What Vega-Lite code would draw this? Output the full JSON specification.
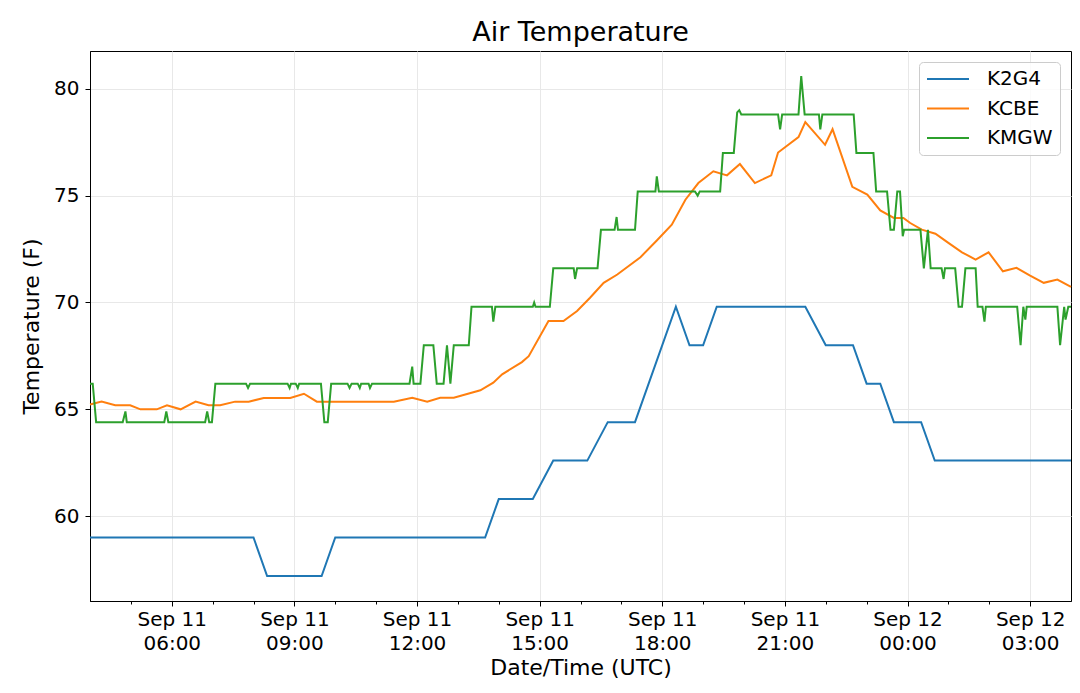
{
  "$schema": "https://vega.github.io/schema/vega-lite/v6.json",
  "width": 981,
  "height": 550,
  "autosize": {"type": "none"},
  "padding": {"left": 90, "top": 51, "right": 9, "bottom": 92},
  "background": "white",
  "title": {"text": "Air Temperature", "fontSize": 27, "font": "DejaVu Sans", "fontWeight": "normal", "color": "black", "offset": 4},
  "data": {
    "values": [
      {"station": "K2G4", "time": "2019-09-11T04:00:00Z", "temp": 59},
      {"station": "K2G4", "time": "2019-09-11T08:00:00Z", "temp": 59},
      {"station": "K2G4", "time": "2019-09-11T08:20:00Z", "temp": 57.2},
      {"station": "K2G4", "time": "2019-09-11T09:40:00Z", "temp": 57.2},
      {"station": "K2G4", "time": "2019-09-11T10:00:00Z", "temp": 59},
      {"station": "K2G4", "time": "2019-09-11T13:40:00Z", "temp": 59},
      {"station": "K2G4", "time": "2019-09-11T14:00:00Z", "temp": 60.8},
      {"station": "K2G4", "time": "2019-09-11T14:50:00Z", "temp": 60.8},
      {"station": "K2G4", "time": "2019-09-11T15:20:00Z", "temp": 62.6},
      {"station": "K2G4", "time": "2019-09-11T16:10:00Z", "temp": 62.6},
      {"station": "K2G4", "time": "2019-09-11T16:40:00Z", "temp": 64.4},
      {"station": "K2G4", "time": "2019-09-11T17:20:00Z", "temp": 64.4},
      {"station": "K2G4", "time": "2019-09-11T18:20:00Z", "temp": 69.8},
      {"station": "K2G4", "time": "2019-09-11T18:40:00Z", "temp": 68},
      {"station": "K2G4", "time": "2019-09-11T19:00:00Z", "temp": 68},
      {"station": "K2G4", "time": "2019-09-11T19:20:00Z", "temp": 69.8},
      {"station": "K2G4", "time": "2019-09-11T21:30:00Z", "temp": 69.8},
      {"station": "K2G4", "time": "2019-09-11T22:00:00Z", "temp": 68},
      {"station": "K2G4", "time": "2019-09-11T22:40:00Z", "temp": 68},
      {"station": "K2G4", "time": "2019-09-11T23:00:00Z", "temp": 66.2},
      {"station": "K2G4", "time": "2019-09-11T23:20:00Z", "temp": 66.2},
      {"station": "K2G4", "time": "2019-09-11T23:40:00Z", "temp": 64.4},
      {"station": "K2G4", "time": "2019-09-12T00:20:00Z", "temp": 64.4},
      {"station": "K2G4", "time": "2019-09-12T00:40:00Z", "temp": 62.6},
      {"station": "K2G4", "time": "2019-09-12T04:00:00Z", "temp": 62.6},
      {"station": "KCBE", "time": "2019-09-11T04:00:00Z", "temp": 65.23},
      {"station": "KCBE", "time": "2019-09-11T04:17:00Z", "temp": 65.36},
      {"station": "KCBE", "time": "2019-09-11T04:37:00Z", "temp": 65.19},
      {"station": "KCBE", "time": "2019-09-11T04:59:00Z", "temp": 65.19},
      {"station": "KCBE", "time": "2019-09-11T05:14:00Z", "temp": 65.0},
      {"station": "KCBE", "time": "2019-09-11T05:38:00Z", "temp": 65.0},
      {"station": "KCBE", "time": "2019-09-11T05:53:00Z", "temp": 65.19},
      {"station": "KCBE", "time": "2019-09-11T06:13:00Z", "temp": 65.0},
      {"station": "KCBE", "time": "2019-09-11T06:35:00Z", "temp": 65.36},
      {"station": "KCBE", "time": "2019-09-11T06:54:00Z", "temp": 65.19},
      {"station": "KCBE", "time": "2019-09-11T07:11:00Z", "temp": 65.19},
      {"station": "KCBE", "time": "2019-09-11T07:33:00Z", "temp": 65.36},
      {"station": "KCBE", "time": "2019-09-11T07:53:00Z", "temp": 65.36},
      {"station": "KCBE", "time": "2019-09-11T08:15:00Z", "temp": 65.53},
      {"station": "KCBE", "time": "2019-09-11T08:54:00Z", "temp": 65.53},
      {"station": "KCBE", "time": "2019-09-11T09:14:00Z", "temp": 65.73},
      {"station": "KCBE", "time": "2019-09-11T09:33:00Z", "temp": 65.36},
      {"station": "KCBE", "time": "2019-09-11T11:26:00Z", "temp": 65.36},
      {"station": "KCBE", "time": "2019-09-11T11:53:00Z", "temp": 65.54},
      {"station": "KCBE", "time": "2019-09-11T12:15:00Z", "temp": 65.36},
      {"station": "KCBE", "time": "2019-09-11T12:34:00Z", "temp": 65.54},
      {"station": "KCBE", "time": "2019-09-11T12:54:00Z", "temp": 65.54},
      {"station": "KCBE", "time": "2019-09-11T13:33:00Z", "temp": 65.89},
      {"station": "KCBE", "time": "2019-09-11T13:52:00Z", "temp": 66.25},
      {"station": "KCBE", "time": "2019-09-11T14:05:00Z", "temp": 66.64},
      {"station": "KCBE", "time": "2019-09-11T14:34:00Z", "temp": 67.21},
      {"station": "KCBE", "time": "2019-09-11T14:44:00Z", "temp": 67.49},
      {"station": "KCBE", "time": "2019-09-11T15:13:00Z", "temp": 69.13},
      {"station": "KCBE", "time": "2019-09-11T15:35:00Z", "temp": 69.13},
      {"station": "KCBE", "time": "2019-09-11T15:55:00Z", "temp": 69.6},
      {"station": "KCBE", "time": "2019-09-11T16:14:00Z", "temp": 70.22},
      {"station": "KCBE", "time": "2019-09-11T16:34:00Z", "temp": 70.92},
      {"station": "KCBE", "time": "2019-09-11T16:54:00Z", "temp": 71.31},
      {"station": "KCBE", "time": "2019-09-11T17:28:00Z", "temp": 72.12},
      {"station": "KCBE", "time": "2019-09-11T17:52:00Z", "temp": 72.9},
      {"station": "KCBE", "time": "2019-09-11T18:14:00Z", "temp": 73.64},
      {"station": "KCBE", "time": "2019-09-11T18:34:00Z", "temp": 74.81},
      {"station": "KCBE", "time": "2019-09-11T18:53:00Z", "temp": 75.59},
      {"station": "KCBE", "time": "2019-09-11T19:15:00Z", "temp": 76.14},
      {"station": "KCBE", "time": "2019-09-11T19:35:00Z", "temp": 75.95},
      {"station": "KCBE", "time": "2019-09-11T19:54:00Z", "temp": 76.48},
      {"station": "KCBE", "time": "2019-09-11T20:16:00Z", "temp": 75.59},
      {"station": "KCBE", "time": "2019-09-11T20:40:00Z", "temp": 75.95},
      {"station": "KCBE", "time": "2019-09-11T20:50:00Z", "temp": 77.02},
      {"station": "KCBE", "time": "2019-09-11T21:20:00Z", "temp": 77.74},
      {"station": "KCBE", "time": "2019-09-11T21:30:00Z", "temp": 78.44},
      {"station": "KCBE", "time": "2019-09-11T21:59:00Z", "temp": 77.38},
      {"station": "KCBE", "time": "2019-09-11T22:10:00Z", "temp": 78.11},
      {"station": "KCBE", "time": "2019-09-11T22:39:00Z", "temp": 75.41},
      {"station": "KCBE", "time": "2019-09-11T23:01:00Z", "temp": 75.05},
      {"station": "KCBE", "time": "2019-09-11T23:20:00Z", "temp": 74.31},
      {"station": "KCBE", "time": "2019-09-11T23:40:00Z", "temp": 73.96},
      {"station": "KCBE", "time": "2019-09-11T23:54:00Z", "temp": 73.96},
      {"station": "KCBE", "time": "2019-09-12T00:04:00Z", "temp": 73.72},
      {"station": "KCBE", "time": "2019-09-12T00:21:00Z", "temp": 73.41},
      {"station": "KCBE", "time": "2019-09-12T00:41:00Z", "temp": 73.22},
      {"station": "KCBE", "time": "2019-09-12T01:00:00Z", "temp": 72.79},
      {"station": "KCBE", "time": "2019-09-12T01:20:00Z", "temp": 72.35},
      {"station": "KCBE", "time": "2019-09-12T01:40:00Z", "temp": 72.01},
      {"station": "KCBE", "time": "2019-09-12T01:59:00Z", "temp": 72.35},
      {"station": "KCBE", "time": "2019-09-12T02:20:00Z", "temp": 71.46},
      {"station": "KCBE", "time": "2019-09-12T02:40:00Z", "temp": 71.62},
      {"station": "KCBE", "time": "2019-09-12T03:00:00Z", "temp": 71.26},
      {"station": "KCBE", "time": "2019-09-12T03:20:00Z", "temp": 70.92},
      {"station": "KCBE", "time": "2019-09-12T03:40:00Z", "temp": 71.07},
      {"station": "KCBE", "time": "2019-09-12T04:00:00Z", "temp": 70.73},
      {"station": "KMGW", "time": "2019-09-11T04:00:00Z", "temp": 66.2},
      {"station": "KMGW", "time": "2019-09-11T04:04:00Z", "temp": 66.2},
      {"station": "KMGW", "time": "2019-09-11T04:09:00Z", "temp": 64.4},
      {"station": "KMGW", "time": "2019-09-11T04:48:00Z", "temp": 64.4},
      {"station": "KMGW", "time": "2019-09-11T04:52:00Z", "temp": 64.9},
      {"station": "KMGW", "time": "2019-09-11T04:54:00Z", "temp": 64.4},
      {"station": "KMGW", "time": "2019-09-11T05:49:00Z", "temp": 64.4},
      {"station": "KMGW", "time": "2019-09-11T05:52:00Z", "temp": 64.9},
      {"station": "KMGW", "time": "2019-09-11T05:55:00Z", "temp": 64.4},
      {"station": "KMGW", "time": "2019-09-11T06:49:00Z", "temp": 64.4},
      {"station": "KMGW", "time": "2019-09-11T06:52:00Z", "temp": 64.9},
      {"station": "KMGW", "time": "2019-09-11T06:55:00Z", "temp": 64.4},
      {"station": "KMGW", "time": "2019-09-11T06:59:00Z", "temp": 64.4},
      {"station": "KMGW", "time": "2019-09-11T07:04:00Z", "temp": 66.2},
      {"station": "KMGW", "time": "2019-09-11T07:49:00Z", "temp": 66.2},
      {"station": "KMGW", "time": "2019-09-11T07:52:00Z", "temp": 66.0},
      {"station": "KMGW", "time": "2019-09-11T07:55:00Z", "temp": 66.2},
      {"station": "KMGW", "time": "2019-09-11T08:50:00Z", "temp": 66.2},
      {"station": "KMGW", "time": "2019-09-11T08:53:00Z", "temp": 66.0},
      {"station": "KMGW", "time": "2019-09-11T08:55:00Z", "temp": 66.2},
      {"station": "KMGW", "time": "2019-09-11T09:02:00Z", "temp": 66.2},
      {"station": "KMGW", "time": "2019-09-11T09:05:00Z", "temp": 66.0},
      {"station": "KMGW", "time": "2019-09-11T09:07:00Z", "temp": 66.2},
      {"station": "KMGW", "time": "2019-09-11T09:39:00Z", "temp": 66.2},
      {"station": "KMGW", "time": "2019-09-11T09:44:00Z", "temp": 64.4},
      {"station": "KMGW", "time": "2019-09-11T09:49:00Z", "temp": 64.4},
      {"station": "KMGW", "time": "2019-09-11T09:54:00Z", "temp": 66.2},
      {"station": "KMGW", "time": "2019-09-11T10:18:00Z", "temp": 66.2},
      {"station": "KMGW", "time": "2019-09-11T10:21:00Z", "temp": 66.0},
      {"station": "KMGW", "time": "2019-09-11T10:24:00Z", "temp": 66.2},
      {"station": "KMGW", "time": "2019-09-11T10:33:00Z", "temp": 66.2},
      {"station": "KMGW", "time": "2019-09-11T10:36:00Z", "temp": 66.0},
      {"station": "KMGW", "time": "2019-09-11T10:38:00Z", "temp": 66.2},
      {"station": "KMGW", "time": "2019-09-11T10:49:00Z", "temp": 66.2},
      {"station": "KMGW", "time": "2019-09-11T10:51:00Z", "temp": 66.0},
      {"station": "KMGW", "time": "2019-09-11T10:54:00Z", "temp": 66.2},
      {"station": "KMGW", "time": "2019-09-11T11:49:00Z", "temp": 66.2},
      {"station": "KMGW", "time": "2019-09-11T11:53:00Z", "temp": 67.0},
      {"station": "KMGW", "time": "2019-09-11T11:55:00Z", "temp": 66.2},
      {"station": "KMGW", "time": "2019-09-11T12:05:00Z", "temp": 66.2},
      {"station": "KMGW", "time": "2019-09-11T12:10:00Z", "temp": 68},
      {"station": "KMGW", "time": "2019-09-11T12:24:00Z", "temp": 68},
      {"station": "KMGW", "time": "2019-09-11T12:29:00Z", "temp": 66.2},
      {"station": "KMGW", "time": "2019-09-11T12:39:00Z", "temp": 66.2},
      {"station": "KMGW", "time": "2019-09-11T12:44:00Z", "temp": 68},
      {"station": "KMGW", "time": "2019-09-11T12:49:00Z", "temp": 66.2},
      {"station": "KMGW", "time": "2019-09-11T12:54:00Z", "temp": 68},
      {"station": "KMGW", "time": "2019-09-11T13:16:00Z", "temp": 68},
      {"station": "KMGW", "time": "2019-09-11T13:20:00Z", "temp": 69.8},
      {"station": "KMGW", "time": "2019-09-11T13:50:00Z", "temp": 69.8},
      {"station": "KMGW", "time": "2019-09-11T13:52:00Z", "temp": 69.1},
      {"station": "KMGW", "time": "2019-09-11T13:55:00Z", "temp": 69.8},
      {"station": "KMGW", "time": "2019-09-11T14:50:00Z", "temp": 69.8},
      {"station": "KMGW", "time": "2019-09-11T14:52:00Z", "temp": 70.0},
      {"station": "KMGW", "time": "2019-09-11T14:54:00Z", "temp": 69.8},
      {"station": "KMGW", "time": "2019-09-11T15:15:00Z", "temp": 69.8},
      {"station": "KMGW", "time": "2019-09-11T15:20:00Z", "temp": 71.6},
      {"station": "KMGW", "time": "2019-09-11T15:50:00Z", "temp": 71.6},
      {"station": "KMGW", "time": "2019-09-11T15:52:00Z", "temp": 71.1},
      {"station": "KMGW", "time": "2019-09-11T15:55:00Z", "temp": 71.6},
      {"station": "KMGW", "time": "2019-09-11T16:25:00Z", "temp": 71.6},
      {"station": "KMGW", "time": "2019-09-11T16:30:00Z", "temp": 73.4},
      {"station": "KMGW", "time": "2019-09-11T16:50:00Z", "temp": 73.4},
      {"station": "KMGW", "time": "2019-09-11T16:53:00Z", "temp": 74.0},
      {"station": "KMGW", "time": "2019-09-11T16:55:00Z", "temp": 73.4},
      {"station": "KMGW", "time": "2019-09-11T17:20:00Z", "temp": 73.4},
      {"station": "KMGW", "time": "2019-09-11T17:24:00Z", "temp": 75.2},
      {"station": "KMGW", "time": "2019-09-11T17:50:00Z", "temp": 75.2},
      {"station": "KMGW", "time": "2019-09-11T17:52:00Z", "temp": 75.9},
      {"station": "KMGW", "time": "2019-09-11T17:55:00Z", "temp": 75.2},
      {"station": "KMGW", "time": "2019-09-11T18:48:00Z", "temp": 75.2},
      {"station": "KMGW", "time": "2019-09-11T18:52:00Z", "temp": 75.0},
      {"station": "KMGW", "time": "2019-09-11T18:55:00Z", "temp": 75.2},
      {"station": "KMGW", "time": "2019-09-11T19:25:00Z", "temp": 75.2},
      {"station": "KMGW", "time": "2019-09-11T19:29:00Z", "temp": 77.0},
      {"station": "KMGW", "time": "2019-09-11T19:45:00Z", "temp": 77.0},
      {"station": "KMGW", "time": "2019-09-11T19:50:00Z", "temp": 78.9},
      {"station": "KMGW", "time": "2019-09-11T19:53:00Z", "temp": 79.0},
      {"station": "KMGW", "time": "2019-09-11T19:56:00Z", "temp": 78.8},
      {"station": "KMGW", "time": "2019-09-11T20:50:00Z", "temp": 78.8},
      {"station": "KMGW", "time": "2019-09-11T20:53:00Z", "temp": 78.1},
      {"station": "KMGW", "time": "2019-09-11T20:56:00Z", "temp": 78.8},
      {"station": "KMGW", "time": "2019-09-11T21:20:00Z", "temp": 78.8},
      {"station": "KMGW", "time": "2019-09-11T21:24:00Z", "temp": 80.6},
      {"station": "KMGW", "time": "2019-09-11T21:29:00Z", "temp": 78.8},
      {"station": "KMGW", "time": "2019-09-11T21:50:00Z", "temp": 78.8},
      {"station": "KMGW", "time": "2019-09-11T21:52:00Z", "temp": 78.1},
      {"station": "KMGW", "time": "2019-09-11T21:55:00Z", "temp": 78.8},
      {"station": "KMGW", "time": "2019-09-11T22:41:00Z", "temp": 78.8},
      {"station": "KMGW", "time": "2019-09-11T22:45:00Z", "temp": 77.0},
      {"station": "KMGW", "time": "2019-09-11T23:10:00Z", "temp": 77.0},
      {"station": "KMGW", "time": "2019-09-11T23:14:00Z", "temp": 75.2},
      {"station": "KMGW", "time": "2019-09-11T23:30:00Z", "temp": 75.2},
      {"station": "KMGW", "time": "2019-09-11T23:35:00Z", "temp": 73.4},
      {"station": "KMGW", "time": "2019-09-11T23:40:00Z", "temp": 73.4},
      {"station": "KMGW", "time": "2019-09-11T23:45:00Z", "temp": 75.2},
      {"station": "KMGW", "time": "2019-09-11T23:49:00Z", "temp": 75.2},
      {"station": "KMGW", "time": "2019-09-11T23:53:00Z", "temp": 73.1},
      {"station": "KMGW", "time": "2019-09-11T23:55:00Z", "temp": 73.4},
      {"station": "KMGW", "time": "2019-09-12T00:19:00Z", "temp": 73.4},
      {"station": "KMGW", "time": "2019-09-12T00:24:00Z", "temp": 71.6},
      {"station": "KMGW", "time": "2019-09-12T00:30:00Z", "temp": 73.4},
      {"station": "KMGW", "time": "2019-09-12T00:34:00Z", "temp": 71.6},
      {"station": "KMGW", "time": "2019-09-12T00:50:00Z", "temp": 71.6},
      {"station": "KMGW", "time": "2019-09-12T00:53:00Z", "temp": 71.1},
      {"station": "KMGW", "time": "2019-09-12T00:55:00Z", "temp": 71.6},
      {"station": "KMGW", "time": "2019-09-12T01:10:00Z", "temp": 71.6},
      {"station": "KMGW", "time": "2019-09-12T01:15:00Z", "temp": 69.8},
      {"station": "KMGW", "time": "2019-09-12T01:20:00Z", "temp": 69.8},
      {"station": "KMGW", "time": "2019-09-12T01:25:00Z", "temp": 71.6},
      {"station": "KMGW", "time": "2019-09-12T01:40:00Z", "temp": 71.6},
      {"station": "KMGW", "time": "2019-09-12T01:43:00Z", "temp": 69.8},
      {"station": "KMGW", "time": "2019-09-12T01:50:00Z", "temp": 69.8},
      {"station": "KMGW", "time": "2019-09-12T01:53:00Z", "temp": 69.1},
      {"station": "KMGW", "time": "2019-09-12T01:55:00Z", "temp": 69.8},
      {"station": "KMGW", "time": "2019-09-12T02:41:00Z", "temp": 69.8},
      {"station": "KMGW", "time": "2019-09-12T02:46:00Z", "temp": 68.0},
      {"station": "KMGW", "time": "2019-09-12T02:50:00Z", "temp": 69.8},
      {"station": "KMGW", "time": "2019-09-12T02:53:00Z", "temp": 69.2},
      {"station": "KMGW", "time": "2019-09-12T02:55:00Z", "temp": 69.8},
      {"station": "KMGW", "time": "2019-09-12T03:40:00Z", "temp": 69.8},
      {"station": "KMGW", "time": "2019-09-12T03:44:00Z", "temp": 68.0},
      {"station": "KMGW", "time": "2019-09-12T03:50:00Z", "temp": 69.8},
      {"station": "KMGW", "time": "2019-09-12T03:52:00Z", "temp": 69.2},
      {"station": "KMGW", "time": "2019-09-12T03:56:00Z", "temp": 69.8},
      {"station": "KMGW", "time": "2019-09-12T04:00:00Z", "temp": 69.8}
    ]
  },
  "layer": [
    {
      "mark": {"type": "line", "strokeWidth": 2},
      "encoding": {
        "x": {
          "field": "time",
          "type": "temporal",
          "scale": {"type": "utc"},
          "axis": {
            "title": "Date/Time (UTC)",
            "values": [
              {"year": 2019, "month": 9, "date": 11, "hours": 6, "utc": true},
              {"year": 2019, "month": 9, "date": 11, "hours": 9, "utc": true},
              {"year": 2019, "month": 9, "date": 11, "hours": 12, "utc": true},
              {"year": 2019, "month": 9, "date": 11, "hours": 15, "utc": true},
              {"year": 2019, "month": 9, "date": 11, "hours": 18, "utc": true},
              {"year": 2019, "month": 9, "date": 11, "hours": 21, "utc": true},
              {"year": 2019, "month": 9, "date": 12, "hours": 0, "utc": true},
              {"year": 2019, "month": 9, "date": 12, "hours": 3, "utc": true}
            ],
            "labelExpr": "[utcFormat(datum.value, '%b %d'), utcFormat(datum.value, '%H:%M')]",
            "labelLineHeight": 24,
            "labelPadding": 3,
            "labelFlush": false,
            "labelOverlap": false,
            "tickSize": 5,
            "grid": true,
            "titlePadding": 4
          }
        },
        "y": {
          "field": "temp",
          "type": "quantitative",
          "scale": {"domain": [56.03, 81.77], "nice": false, "zero": false},
          "axis": {
            "title": "Temperature (F)",
            "values": [60, 65, 70, 75, 80],
            "tickSize": 5,
            "labelPadding": 6,
            "titlePadding": 10,
            "grid": true
          }
        },
        "color": {
          "field": "station",
          "type": "nominal",
          "scale": {"domain": ["K2G4", "KCBE", "KMGW"], "range": ["#1f77b4", "#ff7f0e", "#2ca02c"]},
          "legend": {
            "title": null,
            "orient": "top-right",
            "offset": 11,
            "fillColor": "rgba(255,255,255,0.8)",
            "strokeColor": "#cccccc",
            "cornerRadius": 4,
            "padding": 7,
            "symbolType": "stroke",
            "symbolSize": 1764,
            "symbolStrokeWidth": 2,
            "labelFontSize": 20,
            "labelOffset": 17,
            "clipHeight": 20,
            "rowPadding": 9.5,
            "labelColor": "black",
            "labelFont": "DejaVu Sans"
          }
        }
      }
    },
    {
      "mark": {"type": "point", "opacity": 0},
      "encoding": {
        "x": {
          "field": "time",
          "type": "temporal",
          "scale": {"type": "utc"},
          "axis": {
            "orient": "bottom",
            "title": null,
            "values": [
              {"year": 2019, "month": 9, "date": 11, "hours": 5, "utc": true},
              {"year": 2019, "month": 9, "date": 11, "hours": 7, "utc": true},
              {"year": 2019, "month": 9, "date": 11, "hours": 8, "utc": true},
              {"year": 2019, "month": 9, "date": 11, "hours": 10, "utc": true},
              {"year": 2019, "month": 9, "date": 11, "hours": 11, "utc": true},
              {"year": 2019, "month": 9, "date": 11, "hours": 13, "utc": true},
              {"year": 2019, "month": 9, "date": 11, "hours": 14, "utc": true},
              {"year": 2019, "month": 9, "date": 11, "hours": 16, "utc": true},
              {"year": 2019, "month": 9, "date": 11, "hours": 17, "utc": true},
              {"year": 2019, "month": 9, "date": 11, "hours": 19, "utc": true},
              {"year": 2019, "month": 9, "date": 11, "hours": 20, "utc": true},
              {"year": 2019, "month": 9, "date": 11, "hours": 22, "utc": true},
              {"year": 2019, "month": 9, "date": 11, "hours": 23, "utc": true},
              {"year": 2019, "month": 9, "date": 12, "hours": 1, "utc": true},
              {"year": 2019, "month": 9, "date": 12, "hours": 2, "utc": true}
            ],
            "labels": false,
            "grid": false,
            "domain": false,
            "tickSize": 3
          }
        }
      }
    }
  ],
  "resolve": {"axis": {"x": "independent"}},
  "config": {
    "font": "DejaVu Sans",
    "view": {"stroke": "black", "strokeWidth": 1},
    "axis": {
      "labelFont": "DejaVu Sans",
      "titleFont": "DejaVu Sans",
      "labelFontSize": 20,
      "titleFontSize": 22,
      "titleFontWeight": "normal",
      "labelColor": "black",
      "titleColor": "black",
      "domainColor": "black",
      "tickColor": "black",
      "gridColor": "#e8e8e8",
      "domainWidth": 1,
      "tickWidth": 1
    }
  }
}
